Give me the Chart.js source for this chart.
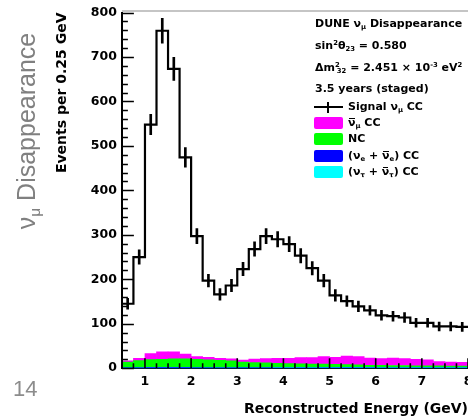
<!DOCTYPE html>
<html>
<head>
<meta charset="utf-8">
<script src="https://cdn.jsdelivr.net/npm/chart.js@4.4.1/dist/chart.umd.min.js"></script>
<style>
  html, body { margin: 0; padding: 0; background: #fff; width: 468px; height: 418px; overflow: hidden; }
  #wrap { position: absolute; left: 0; top: 0; width: 490px; height: 418px; }
  .side { position: absolute; color: #808080; font-family: "Liberation Sans", Arial, sans-serif; white-space: nowrap; }
  #sideTitle { left: -96px; top: 116px; width: 244px; height: 30px; line-height: 30px; font-size: 25px;
               text-align: center; transform: rotate(-90deg); }
  #sideTitle sub { font-size: 0.62em; line-height: 0; vertical-align: -0.3em; }
  #pageNum { left: 13px; top: 378px; font-size: 22px; line-height: 22px; color: #8c8c8c; }
  .lg { position: absolute; font-family: "DejaVu Sans", sans-serif; font-weight: bold; font-size: 11px;
        line-height: 11px; color: #000; white-space: nowrap; }
  .lg sub, .lg sup { font-size: 0.62em; line-height: 0; position: relative; vertical-align: baseline; }
  .lg sub { top: 0.3em; }
  .lg sup { top: -0.55em; }
  .bar { display: inline-block; position: relative; }
  .bar::before { content: ''; position: absolute; left: 1px; right: 1px; top: 1px; border-top: 1px solid #000; }
  .box { position: absolute; left: 314px; width: 29px; height: 12px; border-radius: 2px; }
  .crossH { position: absolute; left: 314px; top: 106px; width: 29px; height: 2px; background: #000; }
  .crossV { position: absolute; left: 327px; top: 102px; width: 2px; height: 11px; background: #000; }
</style>
</head>
<body>
<div id="wrap"><canvas id="c" width="490" height="418"></canvas></div>

<div class="side" id="sideTitle">ν<sub>μ</sub> Disappearance</div>
<div class="side" id="pageNum">14</div>

<div class="lg" style="left:315px;top:18px">DUNE ν<sub>μ</sub> Disappearance</div>
<div class="lg" style="left:315px;top:40px">sin<sup>2</sup>θ<sub>23</sub> = 0.580</div>
<div class="lg" style="left:315px;top:62px">Δm<sup>2</sup><sub style="margin-left:-0.43em">32</sub> = 2.451 × 10<sup>-3</sup> eV<sup>2</sup></div>
<div class="lg" style="left:315px;top:83px">3.5 years (staged)</div>
<div class="crossH"></div><div class="crossV"></div>
<div class="lg" style="left:348px;top:101px">Signal ν<sub>μ</sub> CC</div>
<div class="box" style="top:117px;background:#ff00ff"></div>
<div class="lg" style="left:348px;top:117px"><span class="bar">ν</span><sub>μ</sub> CC</div>
<div class="box" style="top:133px;background:#00ff00"></div>
<div class="lg" style="left:348px;top:133px">NC</div>
<div class="box" style="top:150px;background:#0000ff"></div>
<div class="lg" style="left:348px;top:150px">(ν<sub>e</sub> + <span class="bar">ν</span><sub>e</sub>) CC</div>
<div class="box" style="top:166px;background:#00ffff"></div>
<div class="lg" style="left:348px;top:166px">(ν<sub>τ</sub> + <span class="bar">ν</span><sub>τ</sub>) CC</div>

<script>
// ── Data (events per 0.25 GeV bin) ────────────────────────────────────
const BIN_CENTERS = [0.625, 0.875, 1.125, 1.375, 1.625, 1.875, 2.125, 2.375, 2.625, 2.875,
                     3.125, 3.375, 3.625, 3.875, 4.125, 4.375, 4.625, 4.875, 5.125, 5.375,
                     5.625, 5.875, 6.125, 6.375, 6.625, 6.875, 7.125, 7.375, 7.625, 7.875];
const BIN_WIDTH = 0.25;

const SIGNAL_NUMU_CC = [145, 250, 548, 759, 673, 474, 297, 197, 166, 186,
                        223, 268, 297, 290, 279, 253, 225, 197, 164, 151,
                        139, 130, 119, 117, 114, 102, 102, 94, 94, 93];
const SIGNAL_ERR     = [12, 16, 23, 28, 26, 22, 17, 14, 13, 14,
                        15, 16, 17, 17, 17, 16, 15, 14, 13, 12,
                        12, 11, 11, 11, 11, 10, 10, 10, 10, 10];

const NUTAU_CC   = [0, 0, 0, 0, 0, 0, 0, 0, 0, 0,
                    0.3, 0.4, 0.5, 0.6, 0.7, 0.8, 0.8, 0.9, 0.9, 1.0,
                    1.0, 1.0, 1.0, 1.0, 1.0, 1.0, 1.0, 0.9, 0.9, 0.9];
const NUE_CC     = [1.2, 1.5, 1.8, 1.9, 1.9, 1.8, 1.6, 1.5, 1.4, 1.3,
                    1.2, 1.1, 1.0, 1.0, 0.9, 0.9, 0.8, 0.8, 0.8, 0.7,
                    0.7, 0.7, 0.6, 0.6, 0.6, 0.6, 0.5, 0.5, 0.5, 0.5];
const NC         = [12.8, 15.6, 17.5, 18.1, 19.1, 19.2, 18.4, 17.1, 16.5, 15.1,
                    12.0, 11.1, 10.4, 9.6, 8.8, 8.0, 7.6, 7.3, 6.9, 6.5,
                    5.7, 5.0, 5.1, 4.4, 4.4, 3.6, 3.7, 3.8, 3.1, 3.1];
const NUMUBAR_CC = [2.5, 5.2, 13.4, 17.0, 16.0, 11.0, 6.0, 5.9, 4.1, 4.6,
                    4.5, 7.9, 9.7, 11.1, 11.9, 14.1, 14.6, 17.0, 15.9, 19.3,
                    18.6, 16.3, 14.9, 17.0, 15.6, 14.8, 13.4, 9.7, 9.5, 8.9];

const X_TICKS = [1, 2, 3, 4, 5, 6, 7, 8];
const Y_TICKS = [0, 100, 200, 300, 400, 500, 600, 700, 800];
const X_RANGE = [0.5, 8];
const Y_RANGE = [0, 800];
const X_MINOR_STEP = 0.25;
const Y_MINOR_STEP = 20;

const COLORS = {
  numubar: '#ff00ff',
  nc:      '#00ff00',
  nue:     '#0000ff',
  nutau:   '#00ffff',
  signal:  '#000000',
  frame:   '#8c8c8c',
};
const ROOT_FONT = '"DejaVu Sans", sans-serif';

// ── Stacked background as floating bars (bottom → top) ────────────────
const stackOrder = [
  { label: 'nutau',   values: NUTAU_CC,   color: COLORS.nutau },
  { label: 'nue',     values: NUE_CC,     color: COLORS.nue },
  { label: 'nc',      values: NC,         color: COLORS.nc },
  { label: 'numubar', values: NUMUBAR_CC, color: COLORS.numubar },
];
const running = BIN_CENTERS.map(() => 0);
const bgDatasets = stackOrder.map(s => {
  const data = BIN_CENTERS.map((x, i) => {
    const lo = running[i];
    running[i] += s.values[i];
    return { x, y: [lo, running[i]] };
  });
  return {
    type: 'bar', label: s.label, data,
    backgroundColor: s.color, borderWidth: 0,
    grouped: false, barPercentage: 1, categoryPercentage: 1, order: 5,
  };
});

// ── Signal histogram outline (step edges) ─────────────────────────────
const stepPts = [{ x: X_RANGE[0], y: 0 }];
BIN_CENTERS.forEach((c, i) => {
  stepPts.push({ x: c - BIN_WIDTH / 2, y: SIGNAL_NUMU_CC[i] });
  stepPts.push({ x: c + BIN_WIDTH / 2, y: SIGNAL_NUMU_CC[i] });
});

const errData = BIN_CENTERS.map((x, i) => ({
  x, y: [SIGNAL_NUMU_CC[i] - SIGNAL_ERR[i], SIGNAL_NUMU_CC[i] + SIGNAL_ERR[i]],
}));

// ── ROOT-style inside ticks + frame ───────────────────────────────────
const rootAxes = {
  id: 'rootAxes',
  afterDatasetsDraw(chart) {
    const { ctx, chartArea: a, scales: { x, y } } = chart;
    ctx.save();
    ctx.strokeStyle = '#000';
    ctx.lineWidth = 1.6;
    ctx.beginPath();
    for (let v = Y_RANGE[0]; v <= Y_RANGE[1] + 0.001; v += Y_MINOR_STEP) {
      const py = Math.round(y.getPixelForValue(v)) + 0.5;
      const len = Y_TICKS.includes(v) ? 12 : 6;
      ctx.moveTo(a.left, py); ctx.lineTo(a.left + len, py);
    }
    for (let v = X_RANGE[0]; v <= X_RANGE[1] + 0.001; v += X_MINOR_STEP) {
      const px = x.getPixelForValue(v);
      const len = X_TICKS.includes(v) ? 10 : 5;
      ctx.moveTo(px, a.bottom); ctx.lineTo(px, a.bottom - len);
    }
    ctx.stroke();
    ctx.strokeStyle = COLORS.frame;
    ctx.lineWidth = 1.2;
    ctx.beginPath();
    ctx.moveTo(a.left, a.top - 1.5); ctx.lineTo(chart.width, a.top - 1.5);
    ctx.stroke();
    ctx.restore();
  },
};

new Chart(document.getElementById('c').getContext('2d'), {
  type: 'bar',
  data: {
    datasets: [
      ...bgDatasets,
      {
        type: 'line', label: 'signal', data: stepPts,
        borderColor: COLORS.signal, borderWidth: 2.2, pointRadius: 0,
        tension: 0, fill: false, order: 2,
      },
      {
        type: 'bar', label: 'signal-err', data: errData,
        backgroundColor: COLORS.signal, borderWidth: 0,
        grouped: false, barThickness: 2, order: 1,
      },
    ],
  },
  options: {
    responsive: false,
    animation: false,
    events: [],
    layout: { padding: { left: 54, top: 10, right: 22, bottom: 0 } },
    plugins: { legend: { display: false }, tooltip: { enabled: false } },
    scales: {
      x: {
        type: 'linear', min: X_RANGE[0], max: X_RANGE[1], offset: false,
        afterBuildTicks: s => { s.ticks = X_TICKS.map(v => ({ value: v })); },
        grid: { display: false, drawTicks: false, offset: false },
        border: { display: true, color: '#000', width: 2 },
        ticks: { color: '#000', padding: 6, maxRotation: 0, autoSkip: false,
                 font: { family: ROOT_FONT, size: 12.5, weight: 'bold' } },
        title: { display: true, text: 'Reconstructed Energy (GeV)', align: 'end', color: '#000',
                 padding: { top: 6, bottom: 0 },
                 font: { family: ROOT_FONT, size: 14, weight: 'bold' } },
      },
      y: {
        type: 'linear', min: Y_RANGE[0], max: Y_RANGE[1],
        afterBuildTicks: s => { s.ticks = Y_TICKS.map(v => ({ value: v })); },
        grid: { display: false, drawTicks: false },
        border: { display: true, color: '#000', width: 2 },
        ticks: { color: '#000', padding: 5,
                 font: { family: ROOT_FONT, size: 12.5, weight: 'bold' } },
        title: { display: true, text: 'Events per 0.25 GeV', align: 'end', color: '#000',
                 padding: { top: 0, bottom: 15 },
                 font: { family: ROOT_FONT, size: 14, weight: 'bold' } },
      },
    },
  },
  plugins: [rootAxes],
});
</script>
</body>
</html>
